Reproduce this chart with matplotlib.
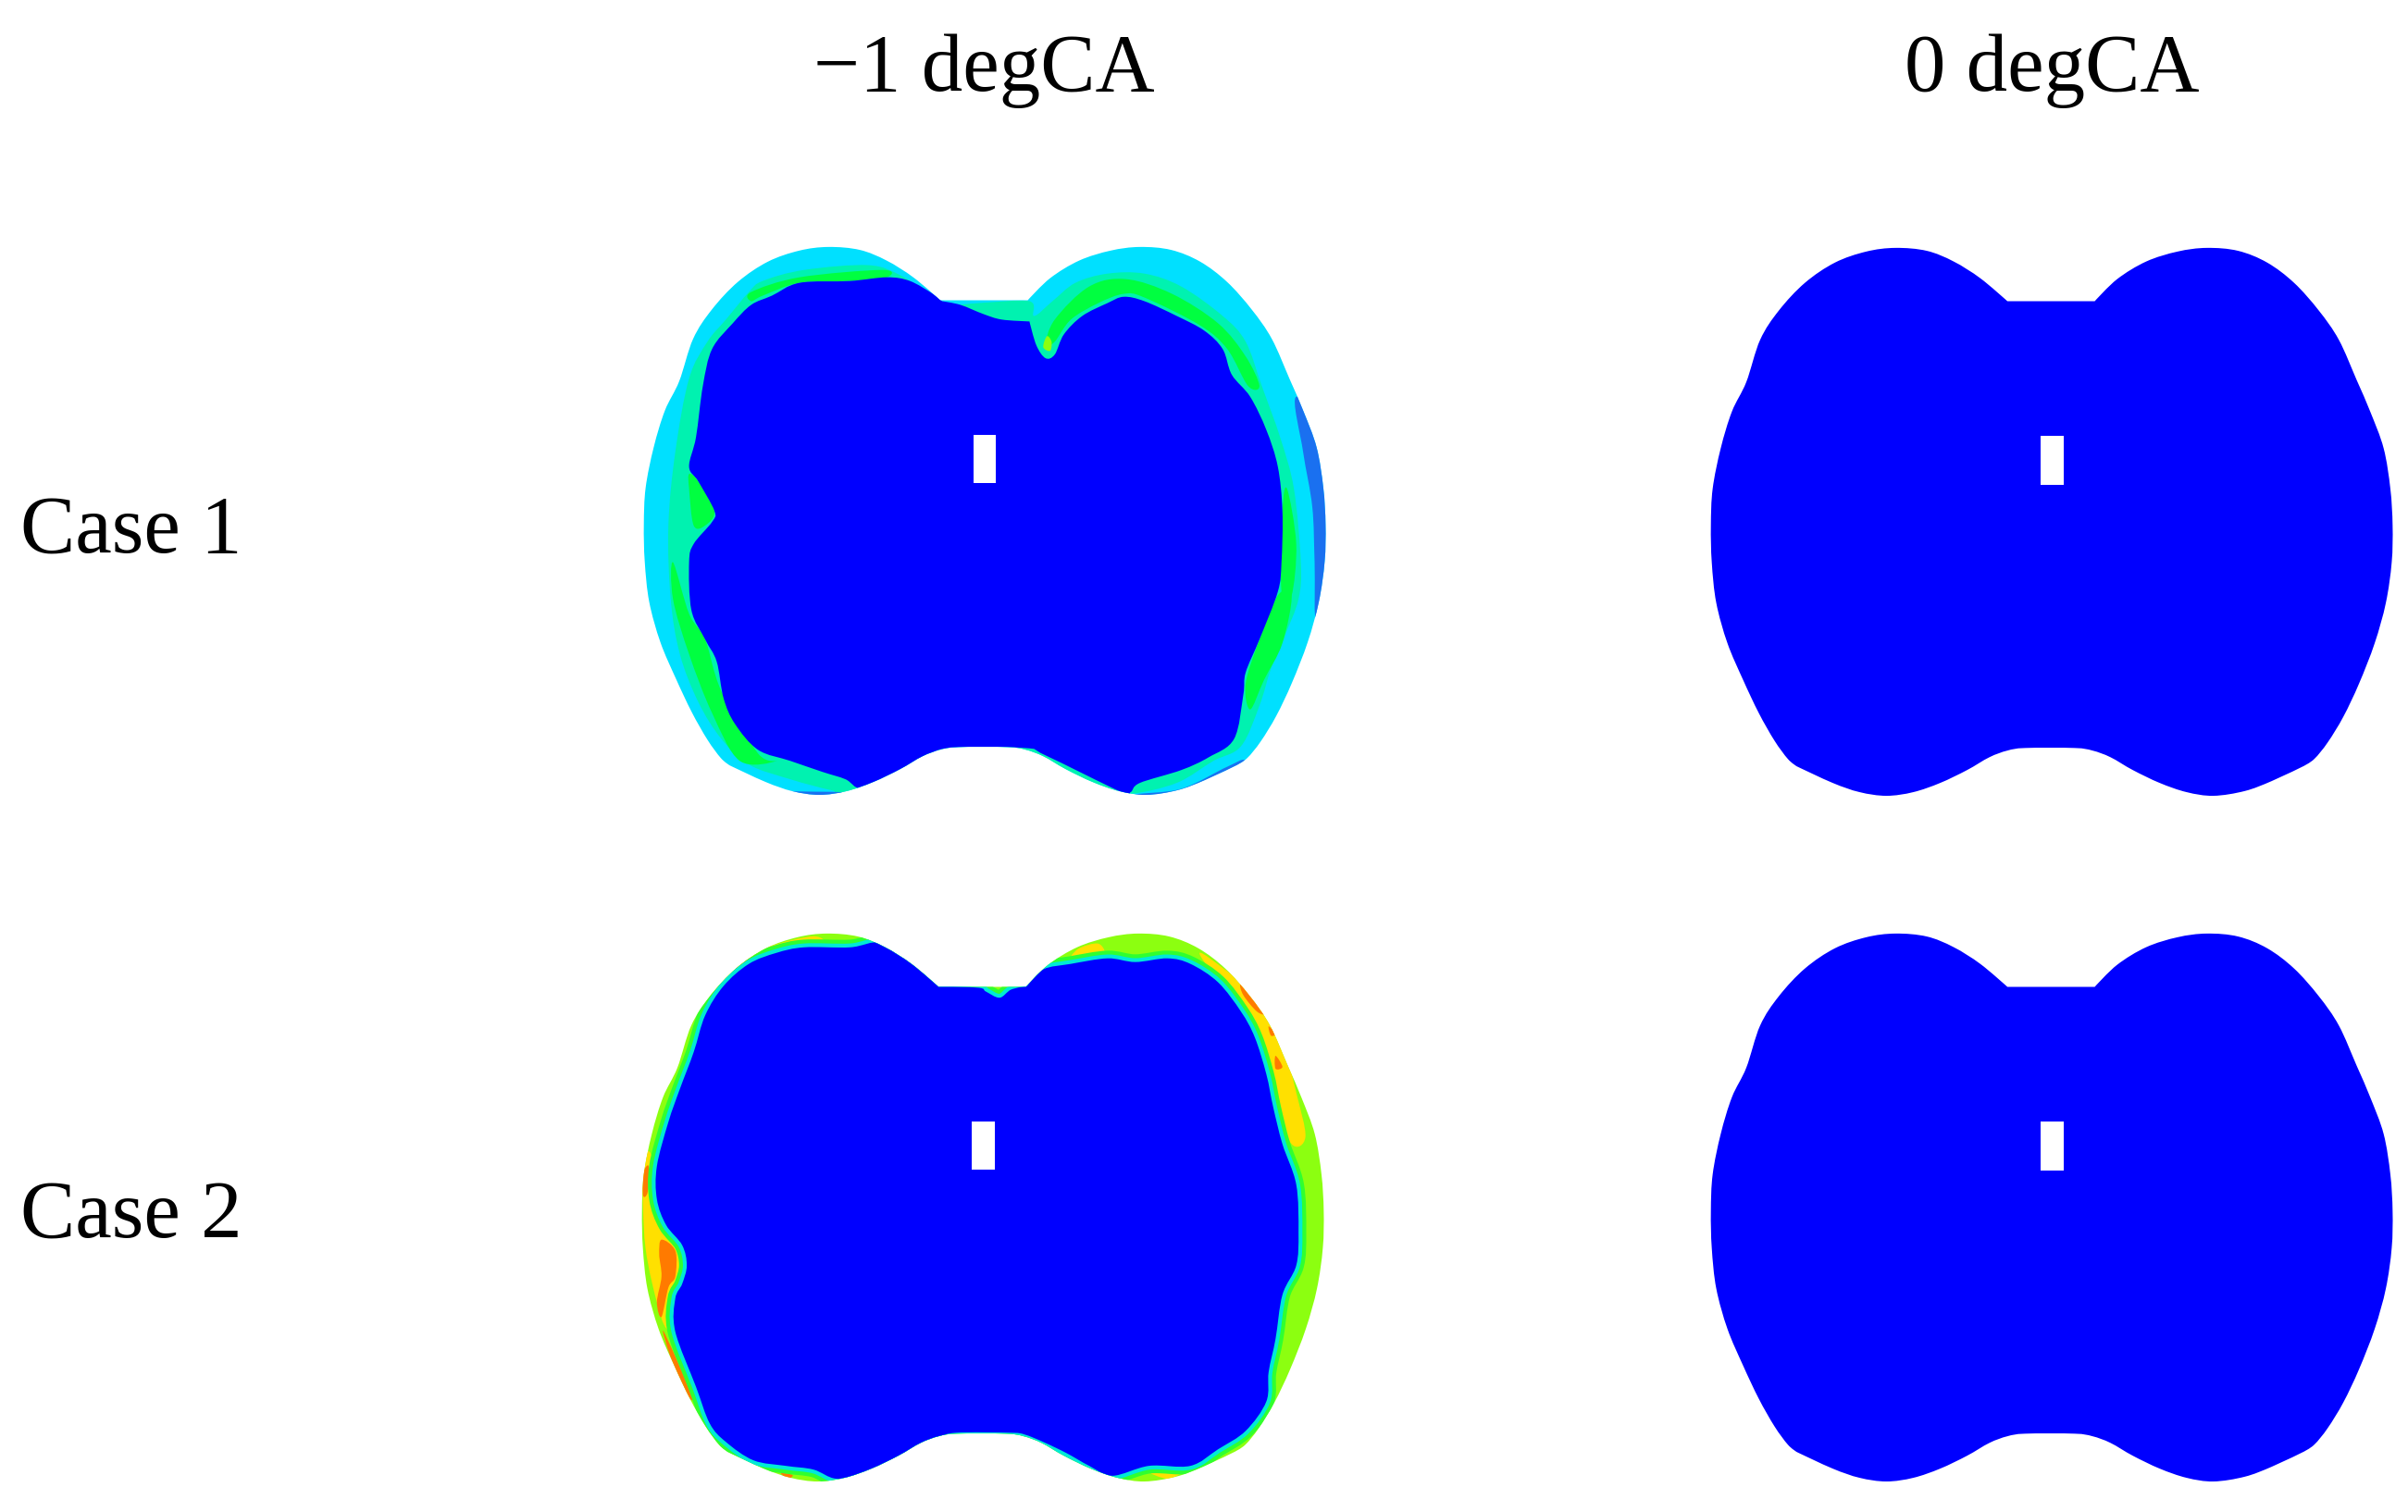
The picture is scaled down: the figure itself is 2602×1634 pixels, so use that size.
# Fuel/temperature contour panels at -1 and 0 degCA, Case 1 and Case 2

import numpy as np
import matplotlib
matplotlib.use("Agg")
import matplotlib.pyplot as plt
from matplotlib.patches import PathPatch, Rectangle
from matplotlib.path import Path

# --------------------------------------------------
# 1. Labels
# --------------------------------------------------

col_labels = ["\u22121 degCA", "0 degCA"]
row_labels = ["Case 1", "Case 2"]

# --------------------------------------------------
# 2. Outlines (crop units, see to_px)
# --------------------------------------------------

outline = [(680,190),(875,190),(925,130),(990,82),(1060,55),(1125,45),(1195,53),(1260,85),
           (1320,140),(1375,215),(1420,295),(1460,405),(1490,490),(1520,590),(1535,700),
           (1540,800),(1538,900),(1525,1010),(1500,1120),(1465,1230),(1430,1320),(1395,1390),(1365,1435),
           (1340,1455),(1270,1495),(1210,1522),(1140,1535),(1080,1525),(1020,1500),(960,1465),
           (910,1430),(870,1412),(830,1405),(720,1405),(680,1412),(640,1430),(590,1465),(530,1500),
           (470,1525),(410,1535),(350,1525),(290,1500),(210,1455),(190,1435),(160,1385),
           (125,1310),(90,1220),(55,1120),(30,1010),(20,900),(18,800),(22,700),(40,590),
           (65,490),(97,410),(128,295),(170,215),(228,140),(295,85),(365,55),
           (430,45),(500,53),(560,82),(620,128)]

# Case 1, -1 degCA
c1_blue = [(680,190),(720,200),(770,225),(810,240),(870,245),(885,310),(905,345),(925,335),
           (945,280),(985,230),(1040,195),(1075,178),(1120,190),(1190,230),(1250,270),(1290,320),
           (1310,390),(1350,450),(1385,540),(1410,640),(1420,760),(1418,900),(1410,980),(1370,1110),
           (1340,1200),(1335,1260),(1315,1380),(1260,1430),(1200,1465),(1110,1500),(1090,1525),(1070,1525),
           (905,1425),(860,1405),(700,1405),(650,1425),(570,1480),(505,1515),(470,1490),(420,1470),
           (350,1440),(280,1410),(230,1340),(205,1270),(190,1170),(165,1110),(135,1030),(130,900),
           (140,850),(180,790),(185,760),(150,680),(130,640),(145,560),(160,420),(180,320),
           (225,250),(265,200),(310,175),(370,140),(480,135),(560,125),(610,135),(660,170)]
c1_seafoam = [(260,165),(290,135),(380,105),(520,92),(590,120),(650,170),(690,200),(760,195),
              (870,190),(880,230),(920,190),(970,140),(1040,115),(1120,115),(1200,150),(1290,230),
              (1340,300),(1375,420),(1415,560),(1445,700),(1460,900),(1455,1000),(1425,1100),(1395,1190),
              (1370,1290),(1330,1400),(1270,1440),(1190,1500),(1090,1530),(1000,1530),(500,1530),(440,1520),
              (350,1490),(260,1450),(200,1380),(150,1280),(110,1150),(90,1000),(85,800),(100,600),
              (130,400),(170,300),(210,240)]
c1_green = [
    [(905,310),(925,240),(1000,150),(1080,130),(1180,170),(1280,250),(1340,340),(1370,420),
     (1345,420),(1300,320),(1240,255),(1120,180),(1075,170),(1020,195),(960,240),(925,300)],
    [(1430,700),(1450,850),(1440,990),(1418,980),(1420,760)],
    [(1440,990),(1420,1120),(1380,1220),(1350,1300),(1340,1230),(1370,1110),(1410,990)],
    [(95,900),(130,1040),(165,1110),(200,1250),(280,1420),(320,1440),(240,1440),(180,1310),(130,1150),(95,1000)],
    [(265,165),(370,125),(550,105),(560,125),(480,135),(370,140),(290,175),(265,190)],
    [(130,660),(150,680),(185,760),(165,800),(140,800),(130,700)],
]
c1_lime_dot = [(900,315),(908,285),(918,300),(915,325)]
c1_crescent = [(1450,450),(1530,560),(1560,800),(1540,1050),(1495,1080),(1490,900),(1485,750),(1465,600)]
c1_edges = [
    [(300,1508),(350,1522),(480,1527),(470,1550),(300,1550)],
    [(1095,1533),(1200,1516),(1300,1456),(1340,1440),(1340,1510),(1100,1560)],
]

# Case 2, -1 degCA
c2_blue = [(545,72),(600,115),(640,150),(675,190),(760,195),(775,205),(805,222),(830,200),
           (865,190),(900,145),(960,130),(1040,115),(1100,125),(1170,115),(1220,130),(1280,180),
           (1330,260),(1360,330),(1385,430),(1400,520),(1420,620),(1450,730),(1455,860),(1450,950),
           (1420,1030),(1405,1150),(1390,1240),(1385,1320),(1340,1400),(1280,1450),(1220,1495),(1130,1495),
           (1050,1522),(1000,1495),(950,1460),(900,1430),(860,1410),(830,1405),(710,1405),(670,1420),
           (620,1450),(570,1485),(510,1515),(450,1530),(400,1505),(340,1495),(270,1480),(210,1430),
           (175,1380),(145,1280),(100,1130),(100,1040),(115,1000),(125,950),(115,895),(80,840),
           (60,770),(60,680),(85,560),(110,470),(140,370),(165,270),(205,190),(260,130),
           (320,100),(380,85),(480,85)]
c2_yellow = [
    [(40,640),(55,680),(60,770),(80,840),(115,895),(125,950),(115,1000),(100,1040),(100,1130),
     (75,1110),(50,1000),(35,900),(30,800),(30,720)],
    [(170,220),(235,135),(300,85),(400,55),(420,80),(320,100),(260,130),(205,190)],
    [(1240,100),(1300,150),(1380,230),(1420,340),(1450,480),(1470,600),(1440,620),(1400,500),(1360,340),(1280,180)],
    [(975,90),(1020,75),(1030,110),(960,125)],
    [(1130,1510),(1200,1510),(1170,1530)],
]
c2_orange = [
    [(70,880),(100,910),(100,980),(85,1010),(70,1090),(60,1050),(70,980),(65,920)],
    [(30,700),(42,680),(40,750),(30,760)],
    [(1330,185),(1365,220),(1385,265),(1365,260),(1335,215)],
    [(1390,300),(1405,320),(1395,325)],
    [(1405,380),(1420,410),(1405,415)],
    [(235,125),(260,110),(270,125),(235,150)],
    [(355,68),(395,70),(380,78),(350,78)],
    [(75,1130),(135,1300),(125,1300),(90,1200)],
    [(330,1515),(355,1520),(345,1530)],
]

# Rectangular holes, pixels: x0, x1, y0, y1
hole_tl = [1052, 1076, 470, 522]
hole_tr = [2205, 2230, 471, 524]
hole_bl = [1050, 1075, 1212, 1264]
hole_br = [2205, 2230, 1212, 1265]

# Points that stay sharp when the outlines are smoothed
corner_points = {(680,190), (875,190), (870,245), (1340,1455), (210,1455), (675,190), (865,190)}

BLUE = "#0000ff"
CYAN = "#00e0ff"
SEAFOAM = "#00f2b0"
GREEN = "#00ff40"
LIME = "#8cff10"
YELLOW = "#ffe000"
ORANGE = "#ff7a00"
MID_BLUE = "#1a70f0"


def to_px(points, ox, oy, sx=0.497, sy=0.3974):
    pts = np.array(points, dtype=float)
    return np.column_stack([ox + pts[:, 0] * sx, oy + pts[:, 1] * sy])


# closed Catmull-Rom curve through the read points
def smooth_path(points, px):
    n = len(px)
    verts = [px[0]]
    codes = [Path.MOVETO]
    tang = [(px[(i + 1) % n] - px[i - 1]) / 6 for i in range(n)]
    for i in range(n):
        j = (i + 1) % n
        t0 = 0 if points[i] in corner_points else tang[i]
        t1 = 0 if points[j] in corner_points else tang[j]
        verts += [px[i] + t0, px[j] - t1, px[j]]
        codes += [Path.CURVE4] * 3
    return Path(np.array(verts), codes)


# --------------------------------------------------
# 3. Figure
# --------------------------------------------------

fig = plt.figure(figsize=(26.02, 16.34), dpi=100)
ax = fig.add_axes([0, 0, 1, 1])
ax.set_xlim(0, 2602)
ax.set_ylim(1634, 0)
ax.axis("off")


def shape_patch(ox, oy, color):
    patch = PathPatch(smooth_path(outline, to_px(outline, ox, oy, sx=0.484)),
                      facecolor=color, edgecolor="none")
    ax.add_patch(patch)
    return patch


def layer(points, ox, oy, clip, color, zorder=2, lw=0):
    patch = PathPatch(smooth_path(points, to_px(points, ox, oy)), facecolor=color,
                      edgecolor=color if lw else "none", linewidth=lw, joinstyle="round", zorder=zorder)
    ax.add_patch(patch)
    patch.set_clip_path(clip)


def hole(box):
    ax.add_patch(Rectangle((box[0], box[2]), box[1] - box[0], box[3] - box[2],
                           facecolor="white", edgecolor="none", zorder=6))


# Case 1, -1 degCA
clip = shape_patch(1840 - 1153, 249, CYAN)
layer(c1_crescent, 680, 250, clip, MID_BLUE)
layer(c1_seafoam, 680, 250, clip, SEAFOAM, zorder=3)
for part in c1_green:
    layer(part, 680, 250, clip, GREEN, zorder=4)
for part in c1_edges:
    layer(part, 680, 250, clip, MID_BLUE, zorder=4)
layer(c1_lime_dot, 680, 250, clip, LIME, zorder=4)
layer(c1_blue, 680, 250, clip, BLUE, zorder=5)
hole(hole_tl)

# Case 1, 0 degCA
shape_patch(1840, 250, BLUE)
hole(hole_tr)

# Case 2, -1 degCA
clip = shape_patch(1840 - 1155, 991, LIME)
for part in c2_yellow:
    layer(part, 680, 990, clip, YELLOW, zorder=2)
for part in c2_orange:
    layer(part, 680, 990, clip, ORANGE, zorder=3)
layer(c2_blue, 680, 990, clip, "#30ff30", zorder=4, lw=12)
layer(c2_blue, 680, 990, clip, "#00e8d8", zorder=4.5, lw=6)
layer(c2_blue, 680, 990, clip, BLUE, zorder=5)
hole(hole_bl)

# Case 2, 0 degCA
shape_patch(1840, 991, BLUE)
hole(hole_br)

# --------------------------------------------------
# 4. Text
# --------------------------------------------------

serif = ["Liberation Serif", "DejaVu Serif"]
ax.text(1063, 98, col_labels[0], family=serif, fontsize=64, ha="center", va="baseline")
ax.text(2217, 98, col_labels[1], family=serif, fontsize=64, ha="center", va="baseline")
ax.text(22, 597, row_labels[0], family=serif, fontsize=64, ha="left", va="baseline")
ax.text(22, 1337, row_labels[1], family=serif, fontsize=64, ha="left", va="baseline")

plt.savefig("out.png", dpi=100)
